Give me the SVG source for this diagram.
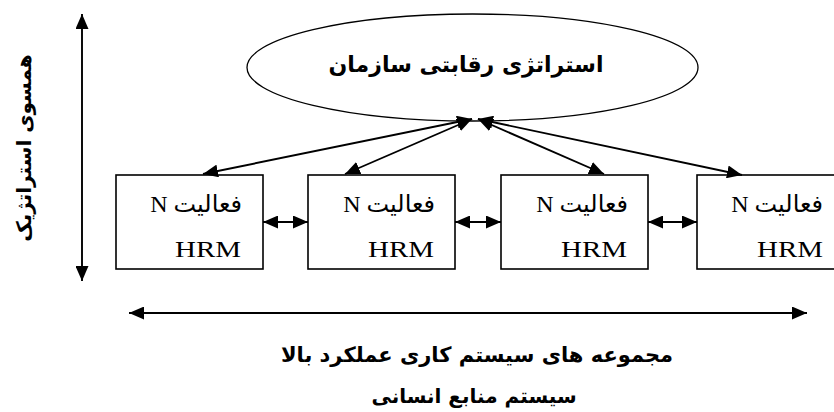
<svg xmlns="http://www.w3.org/2000/svg" width="834" height="412" viewBox="0 0 834 412">
<style>
.box{fill:#fff;stroke:#000;stroke-width:1.6}
.ln{fill:none;stroke:#000;stroke-width:1.9}
.fa{font-family:"DejaVu Sans",sans-serif;font-weight:bold;fill:#000}
.bt{font-family:"Liberation Serif","DejaVu Serif","DejaVu Sans",serif;font-size:24px;fill:#000}
</style>
<defs>
<marker id="ah" markerUnits="userSpaceOnUse" markerWidth="15" markerHeight="13" refX="15" refY="6.5" orient="auto-start-reverse" viewBox="0 0 15 13">
<path d="M0,0 L15,6.5 L0,13 z" fill="#000"/>
</marker>
</defs>
<rect width="834" height="412" fill="#fff"/>
<g id="strategy">
<ellipse cx="472.5" cy="67.5" rx="225.5" ry="53.5" fill="#fff" stroke="#000" stroke-width="1.3"/>
<text class="fa" x="466" y="72" font-size="22" text-anchor="middle" direction="rtl">استراتژی رقابتی سازمان</text>
</g>
<g id="box1">
<rect class="box" x="116" y="175" width="147" height="94"/>
<text class="bt" x="242" y="212" direction="rtl" text-anchor="start">فعالیت N</text>
<text class="bt" x="241" y="257" text-anchor="end" textLength="66" lengthAdjust="spacingAndGlyphs">HRM</text>
</g>
<g id="box2">
<rect class="box" x="308" y="175" width="147" height="94"/>
<text class="bt" x="435" y="212" direction="rtl" text-anchor="start">فعالیت N</text>
<text class="bt" x="434" y="257" text-anchor="end" textLength="66" lengthAdjust="spacingAndGlyphs">HRM</text>
</g>
<g id="box3">
<rect class="box" x="501" y="175" width="147" height="94"/>
<text class="bt" x="628" y="212" direction="rtl" text-anchor="start">فعالیت N</text>
<text class="bt" x="627" y="257" text-anchor="end" textLength="66" lengthAdjust="spacingAndGlyphs">HRM</text>
</g>
<g id="box4">
<rect class="box" x="697" y="175" width="147" height="94"/>
<text class="bt" x="823" y="212" direction="rtl" text-anchor="start">فعالیت N</text>
<text class="bt" x="823" y="257" text-anchor="end" textLength="66" lengthAdjust="spacingAndGlyphs">HRM</text>
</g>
<g id="connectors">
<line class="ln" x1="472" y1="119" x2="203" y2="174" marker-start="url(#ah)" marker-end="url(#ah)"/>
<line class="ln" x1="472" y1="119" x2="345" y2="174" marker-start="url(#ah)" marker-end="url(#ah)"/>
<line class="ln" x1="478" y1="119" x2="604" y2="174" marker-start="url(#ah)" marker-end="url(#ah)"/>
<line class="ln" x1="478" y1="119" x2="742" y2="175" marker-start="url(#ah)" marker-end="url(#ah)"/>
<line class="ln" x1="263" y1="222" x2="308" y2="222" marker-start="url(#ah)" marker-end="url(#ah)"/>
<line class="ln" x1="455" y1="222" x2="501" y2="222" marker-start="url(#ah)" marker-end="url(#ah)"/>
<line class="ln" x1="648" y1="222" x2="697" y2="222" marker-start="url(#ah)" marker-end="url(#ah)"/>
<line class="ln" x1="82" y1="14" x2="82" y2="281" marker-start="url(#ah)" marker-end="url(#ah)"/>
<line class="ln" x1="129" y1="313" x2="807" y2="313" marker-start="url(#ah)" marker-end="url(#ah)"/>
</g>
<g id="labels">
<text class="fa" font-size="20" transform="translate(31,148) rotate(-90)" text-anchor="middle" direction="rtl">همسوی استراتژیک</text>
<text class="fa" x="477" y="362" font-size="21" text-anchor="middle" direction="rtl">مجموعه های سیستم کاری عملکرد بالا</text>
<text class="fa" x="474" y="403" font-size="20" text-anchor="middle" direction="rtl">سیستم منابع انسانی</text>
</g>
</svg>
